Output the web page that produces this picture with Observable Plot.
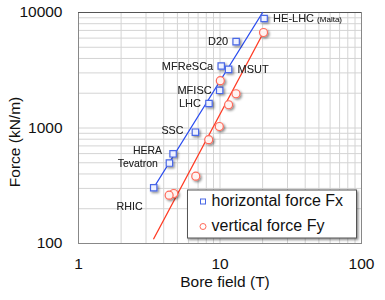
<!DOCTYPE html>
<html><head><meta charset="utf-8">
<script src="https://cdn.jsdelivr.net/npm/d3@7"></script>
<script src="https://cdn.jsdelivr.net/npm/@observablehq/plot@0.6"></script>
<style>body{margin:0;background:#fff} svg{font-family:"Liberation Sans",Arial,sans-serif}</style>
</head><body><div id="chart"></div>
<script>
const magnets = ["HE-LHC","D20","MFReSCa","MSUT","MFISC","LHC","SSC","HERA","Tevatron","RHIC"];
const fxField = [20.5,13.0,10.2,11.5,9.95,8.36,6.7,4.66,4.39,3.4];
const fxForce = [8870,5600,3440,3220,2120,1630,920,598,497,304];
const fyField = [20.3,10.05,12.97,11.5,9.89,8.32,6.74,4.71,4.37];
const fyForce = [6710,2570,1980,1590,1030,793,383,271,262];
const fxFitField = [3.4,20];
const fxFitForce = [304,10000];
const fyFitField = [3.4,20.3];
const fyFitForce = [110,6710];
const xTicks = [1,10,100];
const yTicks = [100,1000,10000];
const legendLabels = ["horizontal force Fx","vertical force Fy"];

const fx = magnets.map((m,i)=>({name:m,x:fxField[i],y:fxForce[i]}));
const fy = fyField.map((b,i)=>({x:b,y:fyForce[i]}));
const fxFit = fxFitField.map((b,i)=>({x:b,y:fxFitForce[i]}));
const fyFit = fyFitField.map((b,i)=>({x:b,y:fyFitForce[i]}));
const minor = [];
for (const d of [1,10]) for (let k=1;k<=9;k++) minor.push(k*d);
minor.push(100);
const minorY = [];
for (const d of [100,1000]) for (let k=1;k<=9;k++) minorY.push(k*d);
minorY.push(10000);

const rightSet = new Set(["HE-LHC","MSUT"]);
const leftA = new Set(["D20","MFReSCa","MFISC","LHC"]);
const blue="#2a4cf0", red="#ff3b24";
const fmt = d=>String(d);
const only = n => fx.filter(d=>d.name===n);

const plot = Plot.plot({
  width:385, height:300,
  marginLeft:78, marginRight:24, marginTop:12, marginBottom:57,
  x:{type:"log", domain:[1,100], label:null},
  y:{type:"log", domain:[100,10000], label:null},
  marks:[
    Plot.gridX(minor,{stroke:"#d4d4d4", strokeOpacity:1}),
    Plot.gridY(minorY,{stroke:"#d4d4d4", strokeOpacity:1}),
    Plot.frame({stroke:"#888"}),
    Plot.ruleY([10000],{stroke:"#555"}),
    Plot.axisX(xTicks,{tickSize:0, tickPadding:14, fontSize:15.5, fill:"#111", tickFormat:fmt, label:null}),
    Plot.axisY(yTicks,{tickSize:0, tickPadding:16, fontSize:15.5, fill:"#111", tickFormat:fmt, label:null}),
    Plot.line(fxFit,{x:"x",y:"y",stroke:blue,strokeWidth:1.3}),
    Plot.line(fyFit,{x:"x",y:"y",stroke:red,strokeWidth:1.3}),
    Plot.dot(fx,{x:"x",y:"y",symbol:"square",r:3.6,stroke:"#4a68e6",fill:"#eef1ff",strokeWidth:1.2}),
    Plot.dot(fy,{x:"x",y:"y",symbol:"circle",r:4,stroke:"#ff6a5a",fill:"#fff3f1",strokeWidth:1.2}),
    Plot.text(fx.filter(d=>rightSet.has(d.name)),{x:"x",y:"y",text:"name",textAnchor:"start",dx:9,fontSize:11,fill:"#222"}),
    Plot.text(only("HE-LHC"),{x:"x",y:"y",text:()=>"(Malta)",textAnchor:"start",dx:53,dy:1,fontSize:8,fill:"#222"}),
    Plot.text(fx.filter(d=>leftA.has(d.name)),{x:"x",y:"y",text:"name",textAnchor:"end",dx:-8,fontSize:11,fill:"#222"}),
    Plot.text(only("SSC"),{x:"x",y:"y",text:"name",textAnchor:"end",dx:-12,dy:-2,fontSize:10.7,fill:"#222"}),
    Plot.text(only("HERA"),{x:"x",y:"y",text:"name",textAnchor:"end",dx:-11,dy:-3.5,fontSize:10.5,fill:"#222"}),
    Plot.text(only("Tevatron"),{x:"x",y:"y",text:"name",textAnchor:"end",dx:-11.5,dy:0.8,fontSize:10.5,fill:"#222"}),
    Plot.text(only("RHIC"),{x:"x",y:"y",text:"name",textAnchor:"end",dx:-11,dy:19,fontSize:10.7,fill:"#222"})
  ]
});
document.getElementById("chart").appendChild(plot);
const svg = d3.select(plot);
const defs = svg.append("defs");
const f = defs.append("filter").attr("id","shd").attr("x","-50%").attr("y","-50%").attr("width","200%").attr("height","200%");
f.append("feDropShadow").attr("dx",1.5).attr("dy",1.5).attr("stdDeviation",0.9).attr("flood-color","#000").attr("flood-opacity",0.45);
svg.selectAll("g[aria-label='dot']").attr("filter","url(#shd)");
svg.selectAll("g[aria-label='text']").style("filter","drop-shadow(0.6px 0.8px 0.6px rgba(0,0,0,0.25))");

// axis titles
svg.append("text").attr("x",225).attr("y",283).attr("text-anchor","middle").attr("dominant-baseline","middle")
  .attr("font-size",15.5).attr("fill","#111").text("Bore field (T)");
svg.append("text").attr("transform","translate(16,142) rotate(-90)").attr("text-anchor","middle").attr("dominant-baseline","middle")
  .attr("font-size",15.5).attr("fill","#111").text("Force (kN/m)");

// legend
const lg = svg.append("g").attr("text-anchor","start");
lg.append("rect").attr("x",187.5).attr("y",190).attr("width",169).attr("height",48)
  .attr("fill","#fff").attr("stroke","#555").attr("stroke-width",1).attr("filter","url(#shd)");
lg.append("rect").attr("x",200.5).attr("y",199).attr("width",5).attr("height",5).attr("fill","#fff").attr("stroke","#4a68e6");
lg.append("circle").attr("cx",203).attr("cy",226.5).attr("r",3).attr("fill","#fff").attr("stroke","#ff6a5a");
lg.selectAll("text.l").data(legendLabels).join("text").attr("class","l").attr("x",211.5).attr("y",(d,i)=>202+i*25)
  .attr("text-anchor","start").attr("dominant-baseline","middle").attr("font-size",16).attr("fill","#111").text(d=>d);
</script></body></html>
